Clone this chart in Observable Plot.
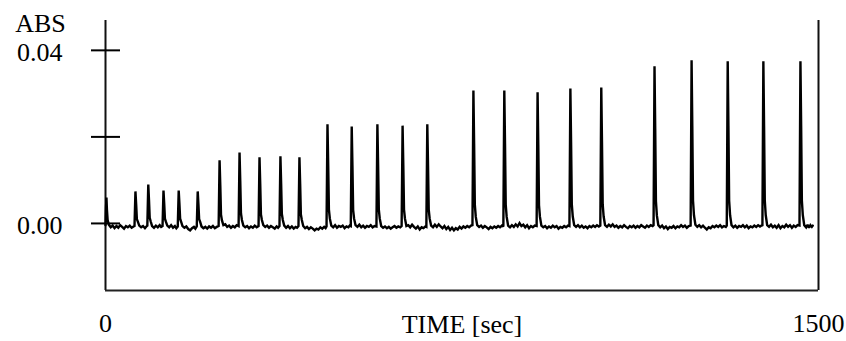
<!DOCTYPE html>
<html><head><meta charset="utf-8">
<script src="https://cdn.jsdelivr.net/npm/d3@7"></script>
<script src="https://cdn.jsdelivr.net/npm/@observablehq/plot@0.6"></script>
<style>html,body{margin:0;padding:0;background:#fff;}</style>
</head><body><div id="chart"></div>
<script>
// [time (s), absorbance]
const trace = [
[0,-0.0004],[1,0.0035],[2,0.0060],[3,0.0032],[4.5,0.0008],[7,-0.0003],
[11,-0.0009],[15,-0.0005],[19,-0.0011],[23,-0.0006],[27,-0.0010],[31,-0.0004],[35,-0.0008],[39,-0.0012],[43,-0.0006],[47,-0.0009],[51,-0.0005],[55,-0.0010],[59,-0.0007],[61,-0.0006],
[63,0.0074],[64.5,0.0044],[66,0.0010],[68,0.0004],[71,-0.0005],
[75,-0.0009],[79,-0.0006],[83,-0.0011],[86,-0.0007],[88,-0.0005],
[90,0.0090],[91.5,0.0054],[93,0.0013],[95,0.0005],[98,-0.0006],
[102,-0.0010],[106,-0.0005],[110,-0.0009],[114,-0.0004],[117,-0.0008],[120,-0.0006],
[122,0.0076],[123.5,0.0046],[125,0.0011],[127,0.0004],[130,-0.0005],
[134,-0.0009],[138,-0.0004],[142,-0.0010],[146,-0.0006],[149,-0.0011],[152,-0.0007],
[154,0.0076],[155.5,0.0046],[157,0.0011],[159,0.0004],[162,-0.0006],
[166,-0.0010],[170,-0.0007],[174,-0.0013],[178,-0.0016],[182,-0.0011],[186,-0.0008],[189,-0.0012],[192,-0.0007],
[194,0.0074],[195.5,0.0044],[197,0.0010],[199,0.0004],[202,-0.0007],
[206,-0.0011],[210,-0.0008],[214,-0.0012],[218,-0.0007],[222,-0.0010],[226,-0.0006],[230,-0.0011],[234,-0.0008],[238,-0.0006],
[240,0.0146],[241.5,0.0088],[243,0.0020],[245,0.0007],[248,-0.0004],
[252,-0.0002],[256,-0.0008],[260,-0.0005],[264,-0.0010],[268,-0.0006],[272,-0.0009],[276,-0.0004],[280,-0.0006],
[282,0.0164],[283.5,0.0098],[285,0.0023],[287,0.0008],[290,-0.0005],
[294,-0.0009],[298,-0.0006],[302,-0.0011],[306,-0.0007],[310,-0.0010],[314,-0.0005],[318,-0.0009],[322,-0.0006],
[324,0.0153],[325.5,0.0092],[327,0.0021],[329,0.0008],[332,-0.0004],
[336,-0.0008],[340,-0.0005],[344,-0.0010],[348,-0.0006],[352,-0.0009],[356,-0.0012],[360,-0.0007],[363,-0.0010],[366,-0.0006],
[368,0.0155],[369.5,0.0093],[371,0.0022],[373,0.0008],[376,-0.0005],
[380,-0.0010],[384,-0.0006],[388,-0.0011],[392,-0.0007],[396,-0.0012],[400,-0.0008],[403,-0.0010],[406,-0.0006],
[408,0.0153],[409.5,0.0092],[411,0.0021],[413,0.0008],[416,-0.0006],
[420,-0.0011],[424,-0.0008],[428,-0.0013],[432,-0.0009],[436,-0.0012],[440,-0.0016],[444,-0.0012],[448,-0.0014],[452,-0.0009],[456,-0.0012],[460,-0.0008],[463,-0.0011],[465,-0.0007],
[467,0.0229],[468.5,0.0137],[470,0.0032],[472,0.0011],[475,-0.0005],
[479,-0.0009],[483,-0.0004],[487,-0.0010],[491,-0.0006],[495,-0.0008],[499,-0.0005],[503,-0.0011],[507,-0.0007],[511,-0.0009],[514,-0.0005],[516,-0.0006],
[518,0.0224],[519.5,0.0134],[521,0.0031],[523,0.0011],[526,-0.0004],
[530,-0.0008],[534,-0.0003],[538,-0.0009],[542,-0.0005],[546,-0.0010],[550,-0.0006],[554,-0.0008],[558,-0.0004],[562,-0.0009],[566,-0.0006],[570,-0.0007],
[572,0.0229],[573.5,0.0137],[575,0.0032],[577,0.0011],[580,-0.0006],
[584,-0.0010],[588,-0.0007],[592,-0.0011],[596,-0.0008],[600,-0.0012],[604,-0.0009],[608,-0.0006],[612,-0.0010],[616,-0.0007],[620,-0.0009],[623,-0.0006],
[625,0.0226],[626.5,0.0136],[628,0.0032],[630,0.0011],[633,-0.0006],
[637,-0.0004],[641,-0.0009],[645,-0.0003],[649,-0.0008],[653,-0.0012],[657,-0.0007],[661,-0.0014],[665,-0.0009],[669,-0.0011],[673,-0.0007],[675,-0.0008],
[677,0.0229],[678.5,0.0137],[680,0.0032],[682,0.0011],[685,-0.0005],
[689,-0.0009],[693,-0.0003],[697,-0.0008],[701,-0.0002],[705,-0.0007],[709,-0.0011],[713,-0.0006],[717,-0.0013],[721,-0.0008],[725,-0.0015],[729,-0.0010],[733,-0.0016],[737,-0.0011],[741,-0.0014],[745,-0.0008],[749,-0.0012],[753,-0.0007],[757,-0.0010],[761,-0.0006],[765,-0.0009],[769,-0.0005],[772,-0.0004],
[774,0.0307],[775.5,0.0184],[777,0.0043],[779,0.0015],[782,-0.0004],
[786,-0.0008],[790,-0.0005],[794,-0.0010],[798,-0.0006],[802,-0.0009],[806,-0.0013],[810,-0.0008],[814,-0.0011],[818,-0.0007],[822,-0.0010],[826,-0.0006],[830,-0.0009],[834,-0.0005],[837,-0.0007],
[839,0.0307],[840.5,0.0184],[842,0.0043],[844,0.0015],[847,-0.0005],
[851,-0.0009],[855,-0.0004],[859,-0.0008],[863,-0.0002],[867,-0.0007],[871,0.0001],[875,-0.0006],[879,-0.0003],[883,-0.0009],[887,-0.0004],[891,-0.0011],[895,-0.0006],[899,-0.0009],[903,-0.0005],[907,-0.0006],
[909,0.0303],[910.5,0.0182],[912,0.0042],[914,0.0015],[917,-0.0005],
[921,-0.0009],[925,-0.0006],[929,-0.0011],[933,-0.0007],[937,-0.0010],[941,-0.0005],[945,-0.0009],[949,-0.0006],[953,-0.0012],[957,-0.0008],[961,-0.0010],[965,-0.0006],[969,-0.0009],[973,-0.0005],[976,-0.0006],
[978,0.0312],[979.5,0.0187],[981,0.0044],[983,0.0016],[986,-0.0004],
[990,-0.0008],[994,-0.0004],[998,-0.0009],[1002,-0.0005],[1006,-0.0010],[1010,-0.0007],[1014,-0.0011],[1018,-0.0006],[1022,-0.0009],[1026,-0.0005],[1030,-0.0008],[1034,-0.0004],[1038,-0.0007],[1041,-0.0005],
[1043,0.0314],[1044.5,0.0188],[1046,0.0044],[1048,0.0016],[1051,-0.0004],
[1055,-0.0008],[1059,-0.0003],[1063,-0.0007],[1067,-0.0002],[1071,-0.0008],[1075,-0.0005],[1079,-0.0010],[1083,-0.0006],[1087,-0.0009],[1091,-0.0004],[1095,-0.0008],[1099,-0.0011],[1103,-0.0006],[1107,-0.0009],[1111,-0.0005],[1115,-0.0010],[1119,-0.0006],[1123,-0.0009],[1127,-0.0004],[1131,-0.0007],[1135,-0.0010],[1139,-0.0005],[1143,-0.0008],[1147,-0.0004],[1151,-0.0006],[1153,-0.0004],
[1155,0.0363],[1156.5,0.0218],[1158,0.0051],[1160,0.0018],[1163,-0.0004],
[1167,-0.0009],[1171,-0.0005],[1175,-0.0011],[1179,-0.0007],[1183,-0.0013],[1187,-0.0008],[1191,-0.0010],[1195,-0.0006],[1199,-0.0011],[1203,-0.0007],[1207,-0.0009],[1211,-0.0004],[1215,-0.0008],[1219,-0.0005],[1223,-0.0010],[1227,-0.0006],[1231,-0.0005],
[1233,0.0377],[1234.5,0.0226],[1236,0.0053],[1238,0.0019],[1241,-0.0003],
[1245,-0.0008],[1249,-0.0004],[1253,-0.0009],[1257,-0.0005],[1261,-0.0010],[1265,-0.0014],[1269,-0.0009],[1273,-0.0011],[1277,-0.0006],[1281,-0.0009],[1285,-0.0005],[1289,-0.0008],[1293,-0.0004],[1297,-0.0009],[1301,-0.0006],[1305,-0.0008],[1307,-0.0005],
[1309,0.0375],[1310.5,0.0225],[1312,0.0053],[1314,0.0019],[1317,-0.0004],
[1321,-0.0009],[1325,-0.0005],[1329,-0.0010],[1333,-0.0006],[1337,-0.0008],[1341,-0.0004],[1345,-0.0009],[1349,-0.0005],[1353,-0.0011],[1357,-0.0007],[1361,-0.0009],[1365,-0.0005],[1369,-0.0008],[1373,-0.0004],[1377,-0.0007],[1380,-0.0005],[1382,-0.0004],
[1384,0.0375],[1385.5,0.0225],[1387,0.0053],[1389,0.0019],[1392,-0.0004],
[1396,-0.0008],[1400,-0.0003],[1404,-0.0009],[1408,-0.0005],[1412,-0.0010],[1416,-0.0004],[1420,-0.0011],[1424,-0.0006],[1428,-0.0009],[1432,-0.0003],[1436,-0.0008],[1440,-0.0004],[1444,-0.0010],[1448,-0.0005],[1452,-0.0008],[1456,-0.0004],[1460,-0.0005],
[1462,0.0375],[1463.5,0.0225],[1465,0.0053],[1467,0.0019],[1470,-0.0004],
[1474,-0.0009],[1477,-0.0003],[1480,-0.0010],[1483,-0.0004],[1486,-0.0008],[1488,-0.0005]
];
const yTicks = [0, 0.02, 0.04];
const yLabelTicks = [0, 0.04];
const xLabelTicks = [0, 1500];
const xDomain = [0, 1500];
const yDomain = [-0.0155, 0.0469];
const yTitle = "ABS";
const xTitle = "TIME [sec]";

const font = "'Liberation Serif', 'Times New Roman', serif";
const chart = Plot.plot({
  width: 846, height: 341,
  marginLeft: 105, marginRight: 28, marginTop: 20, marginBottom: 51,
  style: {fontFamily: font, fontSize: "26px", color: "#000", background: "#fff"},
  x: {domain: xDomain},
  y: {domain: yDomain},
  marks: [
    Plot.ruleX(xDomain, {stroke: "#111", strokeWidth: 2}),
    Plot.ruleY([yDomain[0]], {stroke: "#222", strokeWidth: 2}),
    Plot.axisY(yTicks, {anchor: "left", tickSize: 29, dx: 15, tickFormat: () => "", strokeWidth: 2, label: null}),
    Plot.axisY(yLabelTicks, {anchor: "left", tickSize: 0, tickPadding: 43, tickFormat: d => d.toFixed(2), fontSize: 26, fontFamily: font, dy: 2, label: null}),
    Plot.axisX(xLabelTicks, {anchor: "bottom", tickSize: 0, tickPadding: 23, tickFormat: d => String(d), fontSize: 26, fontFamily: font, label: null}),
    Plot.text([xTitle], {frameAnchor: "bottom", textAnchor: "middle", lineAnchor: "middle", dy: 34, fontSize: 26, fontFamily: font}),
    Plot.text([yTitle], {frameAnchor: "top-left", textAnchor: "middle", lineAnchor: "middle", dx: -65, dy: 3, fontSize: 26, fontFamily: font}),
    Plot.line(trace, {x: d => d[0], y: d => d[1], stroke: "#000", strokeWidth: 2.4, strokeLinejoin: "miter", strokeMiterlimit: 2})
  ]
});
document.getElementById("chart").appendChild(chart);
</script>
</body></html>
